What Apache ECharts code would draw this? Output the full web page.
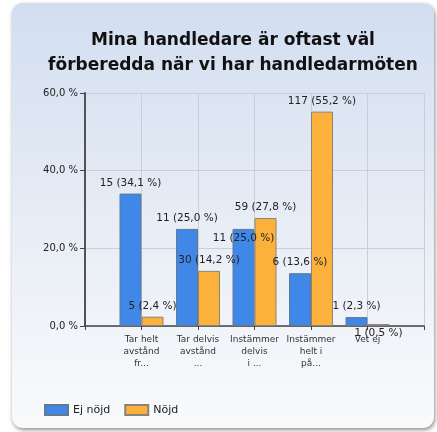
<!DOCTYPE html>
<html>
<head>
<meta charset="utf-8">
<script src="https://cdn.jsdelivr.net/npm/echarts@6/dist/echarts.min.js"></script>
<style>
  html, body { margin: 0; padding: 0; background: #fff; }
  #chart { width: 437px; height: 432px; }
</style>
</head>
<body>
<div id="chart"></div>
<script>
// kategorier (tom plats före och efter)
const categories = ['', 'Tar helt\navstånd\nfr...', 'Tar delvis\navstånd\n...', 'Instämmer\ndelvis\ni ...', 'Instämmer\nhelt i\npå...', 'Vet ej', ''];
const seriesNames = ['Ej nöjd', 'Nöjd'];
const ejNojdPct = [34.1, 25.0, 25.0, 13.6, 2.3];
const ejNojdCount = [15, 11, 11, 6, 1];
const nojdPct = [2.4, 14.2, 27.8, 55.2, 0.5];
const nojdCount = [5, 30, 59, 117, 1];
const yTicks = [0, 20, 40, 60];

function fmt(v) {
  return v.toFixed(1).replace('.', ',') + ' %';
}

// etiketter som ligger nedflyttade i originalet
const pushedDown = { '0-2': 20, '1-4': 20 };

function buildData(pct, count, s) {
  const out = [{ value: null }];
  pct.forEach((v, i) => {
    const item = { value: v, count: count[i] };
    const off = pushedDown[s + '-' + i];
    if (off) item.label = { offset: [0, off] };
    out.push(item);
  });
  out.push({ value: null });
  return out;
}

let getchart = echarts.init(document.getElementById('chart'));

const labelStyle = {
  show: true,
  position: 'top',
  distance: 5,
  fontFamily: 'DejaVu Sans',
  fontSize: 10.5,
  color: '#222',
  formatter: (p) => p.data.count + ' (' + fmt(p.value) + ')'
};

const option = {
  animation: false,
  graphic: [
    {
      type: 'rect',
      z: -10,
      silent: true,
      shape: { x: 12, y: 3, width: 422, height: 425, r: 11 },
      style: {
        fill: new echarts.graphic.LinearGradient(0, 0, 0, 1, [
          { offset: 0, color: '#d2def0' },
          { offset: 0.55, color: '#e9eef6' },
          { offset: 1, color: '#f9fafc' }
        ]),
        shadowBlur: 4,
        shadowOffsetY: 2,
        shadowOffsetX: 1,
        shadowColor: 'rgba(0,0,0,0.45)'
      }
    }
  ],
  title: {
    text: 'Mina handledare är oftast väl\nförberedda när vi har handledarmöten',
    left: 228,
    textAlign: 'center',
    top: 23,
    textStyle: {
      fontFamily: 'DejaVu Sans',
      fontWeight: 'bold',
      fontSize: 17,
      lineHeight: 25,
      color: '#111'
    }
  },
  legend: {
    left: 39,
    top: 399,
    itemWidth: 23,
    itemHeight: 10,
    itemGap: 14,
    icon: 'rect',
    textStyle: { fontFamily: 'DejaVu Sans', fontSize: 11, color: '#222' },
    data: seriesNames
  },
  grid: { left: 85, right: 13, top: 93, bottom: 106 },
  xAxis: {
    type: 'category',
    data: categories,
    boundaryGap: false,
    axisLine: { lineStyle: { color: '#444', width: 1.5 } },
    axisTick: { show: true, length: 4, lineStyle: { color: '#444' } },
    axisLabel: {
      interval: 0,
      margin: 8,
      fontFamily: 'DejaVu Sans',
      fontSize: 9,
      lineHeight: 12,
      color: '#333'
    },
    splitLine: { show: true, lineStyle: { color: '#c9ced8' } }
  },
  yAxis: {
    type: 'value',
    min: yTicks[0],
    max: yTicks[yTicks.length - 1],
    interval: 20,
    axisLine: { show: true, lineStyle: { color: '#444', width: 1.8 } },
    axisTick: { show: true, length: 5, lineStyle: { color: '#444' } },
    axisLabel: {
      margin: 7,
      fontFamily: 'DejaVu Sans',
      fontSize: 10,
      color: '#222',
      formatter: (v) => fmt(v)
    },
    splitLine: { show: true, lineStyle: { color: '#c9ced8' } }
  },
  series: [
    {
      name: seriesNames[0],
      type: 'bar',
      barWidth: 22,
      barGap: '0%',
      itemStyle: { color: '#3f88e8', borderColor: '#667891', borderWidth: 1 },
      label: labelStyle,
      data: buildData(ejNojdPct, ejNojdCount, 0)
    },
    {
      name: seriesNames[1],
      type: 'bar',
      barWidth: 22,
      barGap: '0%',
      itemStyle: { color: '#fbb13c', borderColor: '#8a8378', borderWidth: 1 },
      label: labelStyle,
      data: buildData(nojdPct, nojdCount, 1)
    }
  ]
};

getchart.setOption(option);
</script>
</body>
</html>
